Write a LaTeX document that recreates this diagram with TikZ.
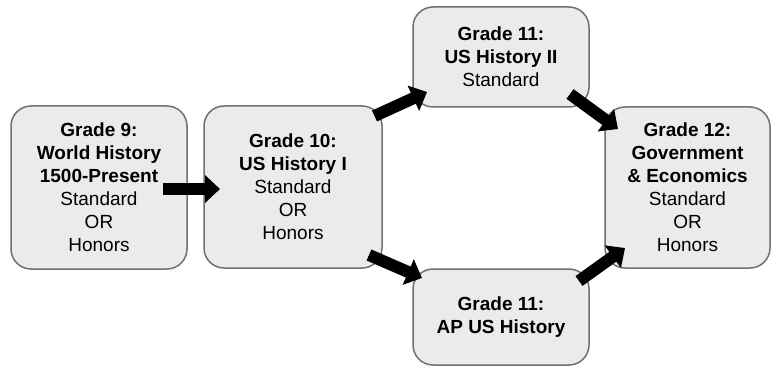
\documentclass[tikz,border=0pt]{standalone}
\usepackage{fontspec}
\setmainfont{Liberation Sans}
\usetikzlibrary{arrows.meta}
\definecolor{boxfill}{HTML}{EBEBEB}
\definecolor{boxdraw}{HTML}{707070}
\tikzset{
  gradebox/.style={draw=boxdraw, line width=1.5pt, fill=boxfill, rounded corners=20pt,
    align=center, inner sep=0pt, font=\fontsize{19}{23}\selectfont, text=black},
  bigarrow/.style={line width=12pt, draw=black, -{Triangle[width=27pt,length=15pt]}}
}
\begin{document}
\begin{tikzpicture}[x=1pt,y=-1pt]
\useasboundingbox (0,0) rectangle (771,366);
\node[gradebox, minimum width=176pt, minimum height=163pt] (g9) at (99,187.5)
  {\textbf{Grade 9:}\\\textbf{World History}\\\textbf{1500-Present}\\Standard\\OR\\Honors};
\node[gradebox, minimum width=178pt, minimum height=162pt] (g10) at (293,187)
  {\textbf{Grade 10:}\\\textbf{US History I}\\Standard\\OR\\Honors};
\node[gradebox, minimum width=176pt, minimum height=100pt] (g11a) at (501,57)
  {\textbf{Grade 11:}\\\textbf{US History II}\\Standard};
\node[gradebox, minimum width=165pt, minimum height=161pt] (g12) at (687.5,187.5)
  {\textbf{Grade 12:}\\\textbf{Government}\\\textbf{\& Economics}\\Standard\\OR\\Honors};
\node[gradebox, minimum width=176pt, minimum height=96pt] (g11b) at (501,317)
  {\textbf{Grade 11:}\\\textbf{AP US History}};
\coordinate (a1s) at (163,189);
\coordinate (a1e) at (220,189);
\coordinate (a2s) at (374.5,116);
\coordinate (a2e) at (427,92);
\coordinate (a3s) at (570,94);
\coordinate (a3e) at (618,129);
\coordinate (a4s) at (369,255);
\coordinate (a4e) at (422,278);
\coordinate (a5s) at (579,281);
\coordinate (a5e) at (625,248);
\draw[bigarrow] (a1s) -- (a1e);
\draw[bigarrow] (a2s) -- (a2e);
\draw[bigarrow] (a3s) -- (a3e);
\draw[bigarrow] (a4s) -- (a4e);
\draw[bigarrow] (a5s) -- (a5e);
\end{tikzpicture}
\end{document}
